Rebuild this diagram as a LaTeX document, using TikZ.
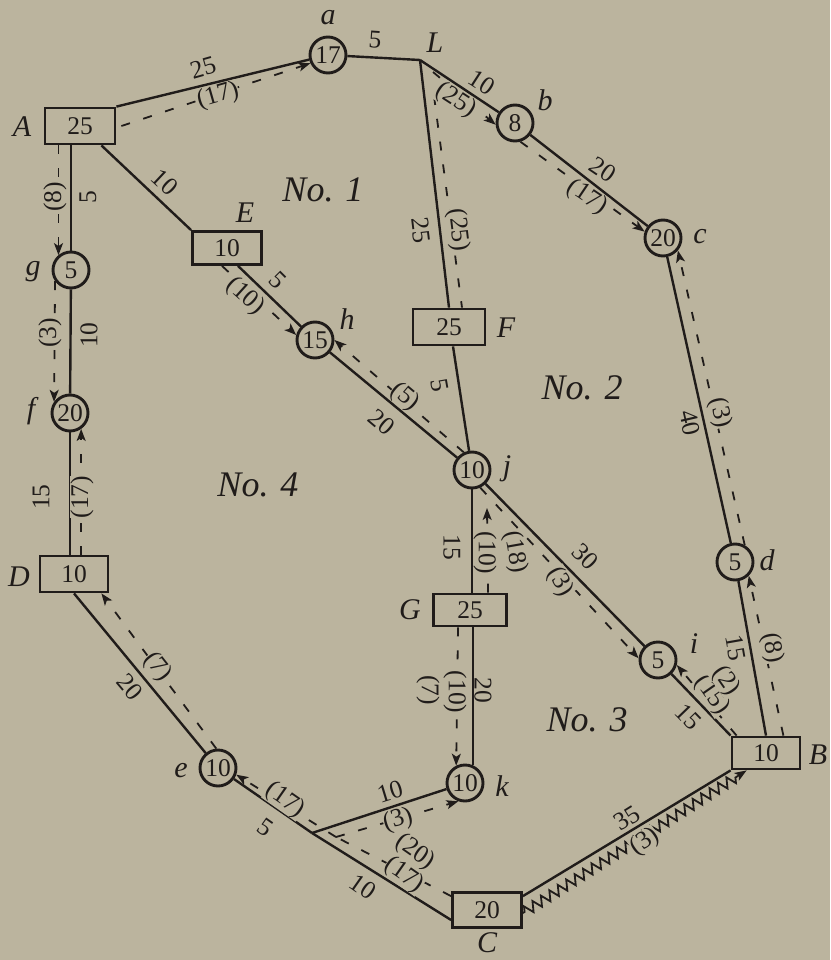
\documentclass[tikz,border=0pt]{standalone}
\usepackage{fontspec}
\setmainfont{Liberation Serif}
\usetikzlibrary{arrows.meta,decorations.pathmorphing}
\definecolor{bg}{RGB}{187,180,158}
\definecolor{ink}{RGB}{32,28,26}
\newcommand{\numfnt}{\fontsize{25.5}{28}\selectfont}
\newcommand{\namefnt}{\fontsize{30}{32}\selectfont\itshape}
\newcommand{\regfnt}{\fontsize{36}{40}\selectfont\itshape}
\begin{document}
\begin{tikzpicture}[x=1pt,y=-1pt,
 bx/.style={draw=ink,line width=2.8pt,inner sep=0pt,font=\numfnt,text=ink},
 cn/.style={circle,draw=ink,line width=2.9pt,minimum size=36pt,inner sep=0pt,font=\numfnt,text=ink},
 ln/.style={draw=ink,line width=2.4pt},
 fl/.style={draw=ink,line width=1.8pt,dash pattern=on 9pt off 14pt},
 arr/.style={-{Stealth[length=12pt,width=9pt,inset=3pt]}},
 lab/.style={font=\numfnt,text=ink,inner sep=0pt},
 flab/.style={font=\numfnt,text=ink,inner sep=0pt,fill=bg},
 nm/.style={font=\namefnt,text=ink,inner sep=0pt},
 reg/.style={font=\regfnt,text=ink,inner sep=0pt}]
\fill[bg] (0,0) rectangle (830,960);
\useasboundingbox (0,0) rectangle (830,960);

% ---------- nodes ----------
\node[bx,minimum width=70pt,minimum height=36pt] (A) at (80,126) {25};
\node[cn] (a) at (328,55) {17};
\coordinate (L) at (420,60);
\coordinate (Lb) at (433,72);
\coordinate (Lf) at (434,96);
\node[cn] (b) at (515,123) {8};
\node[cn] (c) at (663,238) {20};
\node[bx,minimum width=69pt,minimum height=33pt] (E) at (227,248) {10};
\node[cn] (g) at (71,270) {5};
\node[cn] (f) at (70,413) {20};
\node[bx,minimum width=68pt,minimum height=36pt] (D) at (74,574) {10};
\node[cn] (h) at (315,340) {15};
\node[bx,minimum width=72pt,minimum height=36pt] (F) at (449,327) {25};
\node[cn] (j) at (472,470) {10};
\coordinate (jg) at (487,508);
\node[bx,minimum width=73pt,minimum height=32pt] (G) at (470,610) {25};
\node[cn] (k) at (465,783) {10};
\node[cn] (i) at (658,660) {5};
\node[cn] (d) at (735,562) {5};
\node[bx,minimum width=68pt,minimum height=32pt] (B) at (766,753) {10};
\node[bx,minimum width=69pt,minimum height=35pt] (C) at (487,910) {20};
\node[cn] (e) at (218,768) {10};
\coordinate (J) at (312,833);
\coordinate (Jd) at (336,837);

% ---------- solid edges ----------
\draw[ln] (A.north east) -- (a);
\draw[ln] (a) -- (L);
\draw[ln] (L) -- (b);
\draw[ln] (b) -- (c);
\draw[ln] (L) -- (F.north);
\draw[ln] ([xshift=-15pt]A.south east) -- (E.north west);
\draw[ln] (A.south -| g) -- (g);
\draw[ln] (g) -- (f);
\draw[ln] (f) -- (f |- D.north);
\draw[ln] ([xshift=11pt]E.south) -- (h);
\draw[ln] (h) -- (j);
\draw[ln] ([xshift=4pt]F.south) -- (j);
\draw[ln] (j) -- (j |- G.north);
\draw[ln] (j) -- (i);
\draw[ln] (k.65 |- G.south) -- (k.65);
\draw[ln] (c) -- (d);
\draw[ln] (d) -- (B.north);
\draw[ln] (i) -- (B.north west);
\draw[ln] (D.south) -- (e);
\draw[ln] (e) -- (J);
\draw[ln] (J) -- ([yshift=-10pt]C.west);
\draw[ln] (J) -- (k);
\draw[ln] ([yshift=-5pt]C.north east) -- (B.south west);

% ---------- flow (dashed) edges ----------
\draw[fl,arr] ([xshift=5pt]A.east) -- (a.205);
\draw[fl,arr] (Lb) -- (b.185);
\draw[fl,arr] (b.286) -- (c.161);
\draw[fl] (Lf) -- ([xshift=13pt]F.north);
\draw[fl,arr] (A.south -| g.130) -- (g.130);
\draw[fl,arr] (g.215) -- (f.145);
\draw[fl,arr] (D.north -| f.-55) -- (f.-55);
\draw[fl,arr] ([xshift=-5pt]E.south) -- (h.165);
\draw[fl,arr] (j.115) -- (h.0);
\draw[fl,arr] ([xshift=18pt]G.north) -- (jg);
\draw[fl,arr] (j.-65) -- (i.175);
\draw[fl,arr] ([xshift=-12pt]G.south) -- (k.117);
\draw[fl,arr] ([xshift=-18pt]B.north east) -- (d.-45);
\draw[fl,arr] ([xshift=6pt]B.north west) -- (i.-15);
\draw[fl,arr] (d.60) -- (c.-40);
\draw[fl,arr] (e.95) -- ([xshift=-8pt]D.south east);
\draw[fl,arr] (Jd) -- (e.-20);
\draw[fl,arr] (Jd) -- (k.250);
\draw[fl] ([yshift=-5pt]C.north west) -- (Jd);
\draw[draw=ink,line width=1.8pt,arr,decorate,
  decoration={zigzag,amplitude=5pt,segment length=10pt,pre length=2pt,post length=10pt}]
  ([yshift=-3pt]C.east) -- ([xshift=16pt]B.south west);

% ---------- edge labels ----------
\node[lab,rotate=16] (l1) at (203,68) {25};
\node[lab,rotate=-4] (l2) at (375,40) {5};
\node[lab,rotate=-33] (l3) at (482,82) {10};
\node[lab,rotate=-34] (l4) at (603,170) {20};
\node[lab,rotate=-83] (l5) at (421,230) {25};
\node[lab,rotate=-43] (l6) at (165,182) {10};
\node[lab,rotate=90] (l7) at (88,197) {5};
\node[lab,rotate=90] (l8) at (89,335) {10};
\node[lab,rotate=90] (l9) at (41,497) {15};
\node[lab,rotate=-45] (l10) at (278,280) {5};
\node[lab,rotate=-40] (l11) at (382,422) {20};
\node[lab,rotate=-80] (l12) at (440,385) {5};
\node[lab,rotate=-90] (l13) at (452,547) {15};
\node[lab,rotate=-45] (l14) at (585,557) {30};
\node[lab,rotate=-90] (l15) at (483,690) {20};
\node[lab,rotate=-77] (l16) at (690,423) {40};
\node[lab,rotate=-80] (l17) at (736,648) {15};
\node[lab,rotate=-46] (l18) at (688,717) {15};
\node[lab,rotate=-50] (l19) at (130,687) {20};
\node[lab,rotate=-35] (l20) at (265,827) {5};
\node[lab,rotate=-35] (l21) at (363,887) {10};
\node[lab,rotate=17] (l22) at (390,792) {10};
\node[lab,rotate=32] (l23) at (627,818) {35};

% ---------- flow labels ----------
\node[flab,rotate=16] (f1) at (218,96) {(17)};
\node[flab,rotate=-33] (f2) at (456,100) {(25)};
\node[flab,rotate=-34] (f3) at (587,197) {(17)};
\node[flab,rotate=-83] (f4) at (458,230) {(25)};
\node[flab,rotate=90] (f5) at (55,197) {(8)};
\node[flab,rotate=90] (f6) at (50,333) {(3)};
\node[flab,rotate=90] (f7) at (82,497) {(17)};
\node[flab,rotate=-42] (f8) at (245,296) {(10)};
\node[flab,rotate=-40] (f9) at (405,397) {(5)};
\node[flab,rotate=-90] (f10) at (485,553) {(10)};
\node[flab,rotate=-80] (f11) at (515,552) {(18)};
\node[flab,rotate=-60] (f12) at (560,582) {(3)};
\node[flab,rotate=-90] (f13) at (455,692) {(10)};
\node[flab,rotate=-90] (f14) at (428,690) {(7)};
\node[flab,rotate=-77] (f15) at (720,413) {(3)};
\node[flab,rotate=-80] (f16) at (772,648) {(8)};
\node[flab,rotate=-55] (f17) at (712,695) {(15)};
\node[flab,rotate=-55] (f18) at (726,681) {(2)};
\node[flab,rotate=-52] (f19) at (157,667) {(7)};
\node[flab,rotate=-35] (f20) at (285,800) {(17)};
\node[flab,rotate=17] (f21) at (398,820) {(3)};
\node[flab,rotate=-35] (f22) at (415,852) {(20)};
\node[flab,rotate=-35] (f23) at (404,875) {(17)};
\node[flab,rotate=35] (f24) at (645,842) {(3)};

% ---------- node names ----------
\node[nm] (nA) at (22,127) {A};
\node[nm] (na) at (328,18) {a};
\node[nm] (nL) at (435,43) {L};
\node[nm] (nb) at (545,100) {b};
\node[nm] (nc) at (700,237) {c};
\node[nm] (nE) at (245,213) {E};
\node[nm] (ng) at (33,272) {g};
\node[nm] (nf) at (31,411) {f};
\node[nm] (nD) at (19,577) {D};
\node[nm] (nh) at (347,319) {h};
\node[nm] (nF) at (506,328) {F};
\node[nm] (nj) at (507,469) {j};
\node[nm] (nG) at (410,610) {G};
\node[nm] (nk) at (502,786) {k};
\node[nm] (ni) at (694,644) {i};
\node[nm] (nd) at (767,560) {d};
\node[nm] (nB) at (818,755) {B};
\node[nm] (nC) at (487,943) {C};
\node[nm] (ne) at (181,771) {e};

% ---------- region labels ----------
\node[reg] (r1) at (323,190) {No. 1};
\node[reg] (r2) at (582,388) {No. 2};
\node[reg] (r3) at (587,720) {No. 3};
\node[reg] (r4) at (258,485) {No. 4};
\end{tikzpicture}
\end{document}
